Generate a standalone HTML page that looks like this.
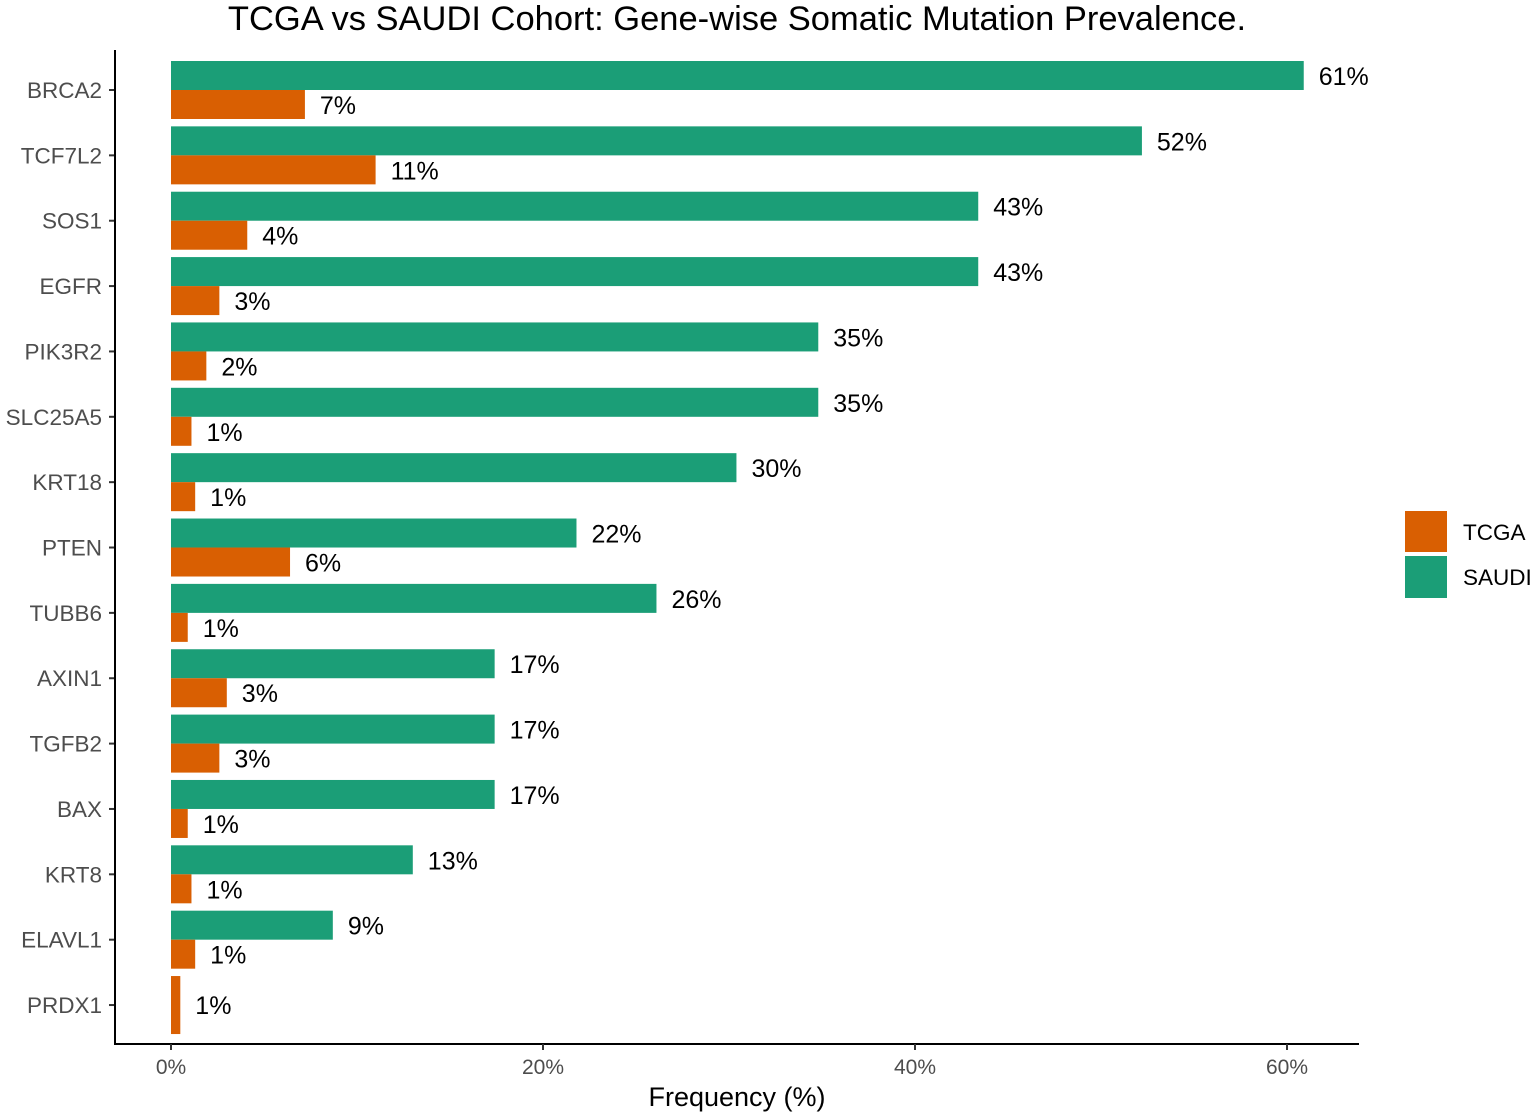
<!DOCTYPE html>
<html><head><meta charset="utf-8">
<style>
html,body{margin:0;padding:0;background:#fff;}
svg{display:block;font-family:"Liberation Sans",Arial,sans-serif;}
</style></head>
<body>
<svg id="chart" width="1535" height="1114" viewBox="0 0 1535 1114">
<text x="737" y="30" font-size="34.5" text-anchor="middle" fill="#000">TCGA vs SAUDI Cohort: Gene-wise Somatic Mutation Prevalence.</text>
<g id="bars"></g>
<g id="axes"></g>
<g>
<rect x="1405" y="511" width="42" height="41" fill="#d95f02"/>
<text x="1463" y="540" font-size="22.5" fill="#000">TCGA</text>
<rect x="1405" y="556" width="42" height="42" fill="#1b9e77"/>
<text x="1463" y="585" font-size="22.5" fill="#000">SAUDI</text>
</g>
<text x="737" y="1106" font-size="27" text-anchor="middle" fill="#000">Frequency (%)</text>
</svg>
<script>
const genes = ["BRCA2","TCF7L2","SOS1","EGFR","PIK3R2","SLC25A5","KRT18","PTEN","TUBB6","AXIN1","TGFB2","BAX","KRT8","ELAVL1","PRDX1"];
const saudiValues = [60.9,52.2,43.4,43.4,34.8,34.8,30.4,21.8,26.1,17.4,17.4,17.4,13.0,8.7,0];
const tcgaValues = [7.2,11.0,4.1,2.6,1.9,1.1,1.3,6.4,0.9,3.0,2.6,0.9,1.1,1.3,0.5];
const xTicks = [0,20,40,60];
const xTickLabels = ["0%","20%","40%","60%"];

const NS="http://www.w3.org/2000/svg";
const x = v => 171 + v*18.6;
const yCenter = i => 90 + i*65.36;
const barH = 29;
const bars=document.getElementById('bars');
const axes=document.getElementById('axes');
function mk(tag,attrs,parent){const e=document.createElementNS(NS,tag);for(const k in attrs)e.setAttribute(k,attrs[k]);parent.appendChild(e);return e;}

genes.forEach((g,i)=>{
  const c=yCenter(i);
  const single = !(saudiValues[i]>0);
  if(!single){
    const r=mk('rect',{x:x(0),y:c-barH,width:x(saudiValues[i])-x(0),height:barH,fill:'#1b9e77'},bars);
    
    
    const t=mk('text',{x:x(saudiValues[i])+15,y:c-5,'font-size':25,fill:'#000'},bars);
    t.textContent=Math.round(saudiValues[i])+'%';
    
    
  }
  const ty = single ? c-barH : c;
  const th = single ? barH*2 : barH;
  const r2=mk('rect',{x:x(0),y:ty,width:x(tcgaValues[i])-x(0),height:th,fill:'#d95f02'},bars);
  
  
  const t2=mk('text',{x:x(tcgaValues[i])+15,y:(single?c+9:c+24),'font-size':25,fill:'#000'},bars);
  t2.textContent=Math.round(tcgaValues[i])+'%';
  
  
  const tk=mk('line',{x1:109,x2:115,y1:c,y2:c,stroke:'#333','stroke-width':2},axes);
  
  
  const yl=mk('text',{x:102,y:c+8,'font-size':22.5,fill:'#4d4d4d','text-anchor':'end'},axes);
  yl.textContent=g;
  
  
});
const ya=mk('line',{x1:115,x2:115,y1:50,y2:1045,stroke:'#000','stroke-width':2},axes);


const xa=mk('line',{x1:114,x2:1359,y1:1044,y2:1044,stroke:'#000','stroke-width':2},axes);


xTicks.forEach((v,i)=>{
  const tk=mk('line',{x1:x(v),x2:x(v),y1:1044,y2:1050,stroke:'#333','stroke-width':2},axes);
  
  
  const tl=mk('text',{x:x(v),y:1074,'font-size':21,fill:'#4d4d4d','text-anchor':'middle'},axes);
  tl.textContent=xTickLabels[i];
  
  
});
</script>
</body></html>
